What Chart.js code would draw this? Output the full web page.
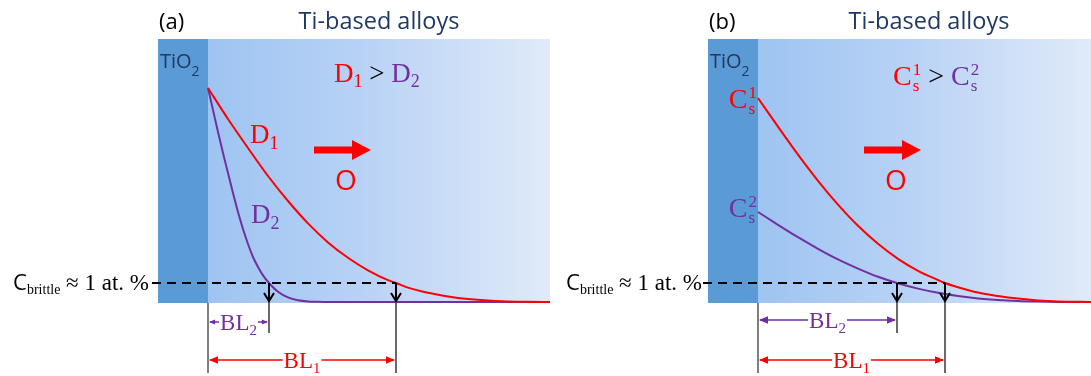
<!DOCTYPE html>
<html>
<head>
<meta charset="utf-8">
<script src="https://cdn.jsdelivr.net/npm/chart.js@4/dist/chart.umd.min.js"></script>
<style>
  html, body { margin: 0; padding: 0; background: #ffffff; }
  #wrap { position: relative; width: 1091px; height: 376px; overflow: hidden; }
  .panel { position: absolute; top: 0; }
  #pa { left: 0; }
  #pb { left: 555px; }
</style>
</head>
<body>
<div id="wrap">
  <div class="panel" id="pa"><canvas id="ca" width="555" height="376"></canvas></div>
  <div class="panel" id="pb"><canvas id="cb" width="536" height="376"></canvas></div>
</div>
<script>
// Oxygen profiles below the TiO2 scale: depth from the oxide/alloy interface
// (arbitrary units) against oxygen content (at. %).

// (a) same surface concentration, different diffusivities D1 > D2
const depthD1  = [0, 2, 4, 6, 8, 10, 12, 14, 16, 18, 18.8, 20, 22, 24, 26, 28, 30, 32, 34.2];
const oxygenD1 = [10.75, 9.2, 7.75, 6.35, 5.1, 3.98, 3.03, 2.26, 1.63, 1.14, 1.0, 0.77, 0.51, 0.33, 0.2, 0.12, 0.08, 0.06, 0.05];
const depthD2  = [0, 0.5, 1, 1.5, 2, 2.5, 3, 3.5, 4, 4.5, 5, 5.5, 6.1, 7, 8, 9, 10, 11, 12, 34.2];
const oxygenD2 = [10.75, 9.65, 8.55, 7.5, 6.5, 5.5, 4.55, 3.7, 2.95, 2.3, 1.8, 1.38, 1.0, 0.56, 0.28, 0.14, 0.08, 0.06, 0.05, 0.05];

// (b) same diffusivity, different surface concentrations Cs1 > Cs2
const depthS1  = [0, 2, 4, 6, 8, 10, 12, 14, 16, 18, 18.7, 20, 22, 24, 26, 28, 30, 33.3];
const oxygenS1 = [10.25, 8.82, 7.42, 6.11, 4.92, 3.86, 2.96, 2.21, 1.61, 1.15, 1.0, 0.79, 0.52, 0.35, 0.22, 0.13, 0.08, 0.05];
const depthS2  = [0, 2, 4, 6, 8, 10, 12, 13.9, 16, 18, 20, 22, 24, 26, 28, 30, 33.3];
const oxygenS2 = [4.55, 3.91, 3.29, 2.71, 2.18, 1.72, 1.31, 1.0, 0.72, 0.51, 0.35, 0.23, 0.15, 0.1, 0.07, 0.05, 0.03];

// embrittlement threshold and the brittle-layer depths [BL1, BL2]
const cBrittle = 1;
const brittleA = [18.8, 6.1];
const brittleB = [18.7, 13.9];

const RED = '#ff0000';
const PURPLE = '#7030a0';
const NAVY = '#1f3864';
const SANS = '"Open Sans", Lato, sans-serif';
const SERIF = '"Liberation Serif", "DejaVu Serif", serif';

// draw a run of differently styled text pieces: [text, font, color, dy]
function rich(ctx, parts, x, y, align) {
  let w = 0;
  parts.forEach(p => { ctx.font = p[1]; w += ctx.measureText(p[0]).width; });
  let cx = align === 'center' ? x - w / 2 : align === 'right' ? x - w : x;
  ctx.textAlign = 'left';
  ctx.textBaseline = 'alphabetic';
  parts.forEach(p => {
    ctx.font = p[1]; ctx.fillStyle = p[2];
    ctx.fillText(p[0], cx, y + (p[3] || 0));
    cx += ctx.measureText(p[0]).width;
  });
  return w;
}

// C with stacked superscript index and subscript "s"
function cs(ctx, x, y, idx, color, size, align) {
  const small = Math.round(size * 0.62);
  ctx.font = size + 'px ' + SERIF;
  const wc = ctx.measureText('C').width;
  ctx.font = small + 'px ' + SERIF;
  const ws = Math.max(ctx.measureText(idx).width, ctx.measureText('s').width);
  const left = align === 'right' ? x - wc - ws : x;
  ctx.textAlign = 'left'; ctx.textBaseline = 'alphabetic';
  ctx.fillStyle = color;
  ctx.font = size + 'px ' + SERIF;
  ctx.fillText('C', left, y);
  ctx.font = small + 'px ' + SERIF;
  ctx.fillText(idx, left + wc + 1, y - size * 0.36);
  ctx.fillText('s', left + wc + 1, y + size * 0.2);
  return wc + ws + 1;
}

function arrowHead(ctx, xTip, y, dir, len, half) {
  ctx.beginPath();
  ctx.moveTo(xTip, y);
  ctx.lineTo(xTip - dir * len, y - half);
  ctx.lineTo(xTip - dir * len, y + half);
  ctx.closePath();
  ctx.fill();
}

// horizontal dimension line with a centred label "BL" + index
function dimension(ctx, x0, x1, y, idx, color) {
  ctx.font = '23px ' + SERIF;
  const wb = ctx.measureText('BL').width;
  ctx.font = '15px ' + SERIF;
  const wi = ctx.measureText(idx).width;
  const w = wb + wi;
  const cx = (x0 + x1) / 2;
  const g0 = cx - w / 2 - 1, g1 = cx + w / 2 + 1;
  ctx.strokeStyle = color; ctx.fillStyle = color; ctx.lineWidth = 1.6;
  ctx.beginPath();
  ctx.moveTo(x0 + 2, y); ctx.lineTo(g0, y);
  ctx.moveTo(g1, y); ctx.lineTo(x1 - 2, y);
  ctx.stroke();
  const len = Math.min(9, (g0 - x0) * 0.55);
  arrowHead(ctx, x0 + 1, y, -1, len, len * 0.42);
  arrowHead(ctx, x1 - 1, y, 1, len, len * 0.42);
  rich(ctx, [['BL', '23px ' + SERIF, color], [idx, '15px ' + SERIF, color, 5]], cx, y + 8, 'center');
}

function makeSchematic(p) {
  return {
    id: 'schematic',
    beforeDatasetsDraw(chart) {
      const { ctx, chartArea: a, scales: { x } } = chart;
      const xi = x.getPixelForValue(0);
      ctx.save();
      ctx.fillStyle = '#5b9bd5';
      ctx.fillRect(a.left, a.top, xi - a.left, a.bottom - a.top);
      const g = ctx.createLinearGradient(xi, 0, a.right, 0);
      g.addColorStop(0, '#9ec4f2');
      g.addColorStop(0.45, '#b8d2f5');
      g.addColorStop(1, '#e0eaf9');
      ctx.fillStyle = g;
      ctx.fillRect(xi, a.top, a.right - xi, a.bottom - a.top);
      ctx.restore();
    },
    afterDatasetsDraw(chart) {
      const { ctx, chartArea: a, scales: { x, y } } = chart;
      const px = v => x.getPixelForValue(v);
      const py = v => y.getPixelForValue(v);
      const x0 = px(0);
      const yb = py(cBrittle);
      const bl1 = px(p.bl[0]), bl2 = px(p.bl[1]);
      ctx.save();

      // titles
      rich(ctx, [[p.tag, '22px ' + SANS, '#000']], a.left + 1, a.top - 10, 'left');
      rich(ctx, [['Ti-based alloys', '23.5px ' + SANS, NAVY]], a.left + 221, a.top - 10, 'center');
      rich(ctx, [['TiO', '20px ' + SANS, NAVY], ['2', '14px ' + SANS, NAVY, 8]], a.left + 2, a.top + 29, 'left');

      // extension lines below the layer
      ctx.strokeStyle = '#000'; ctx.lineWidth = 1;
      ctx.beginPath(); ctx.moveTo(x0, a.bottom); ctx.lineTo(x0, a.bottom + 70); ctx.stroke();
      ctx.strokeStyle = '#5a5a5a'; ctx.lineWidth = 1.8;
      ctx.beginPath();
      ctx.moveTo(bl2, yb); ctx.lineTo(bl2, a.bottom + 30);
      ctx.moveTo(bl1, yb); ctx.lineTo(bl1, a.bottom + 70);
      ctx.stroke();

      // threshold line
      ctx.strokeStyle = '#000'; ctx.lineWidth = 2.2;
      ctx.setLineDash([9, 6]);
      ctx.beginPath(); ctx.moveTo(a.left + p.dashStart, yb); ctx.lineTo(bl1, yb); ctx.stroke();
      ctx.setLineDash([]);

      // down arrows where each profile crosses the threshold
      [bl1, bl2].forEach(bx => {
        ctx.strokeStyle = '#000'; ctx.lineWidth = 2;
        ctx.beginPath();
        ctx.moveTo(bx, yb); ctx.lineTo(bx, a.bottom - 2);
        ctx.moveTo(bx - 5, a.bottom - 10); ctx.lineTo(bx, a.bottom - 2); ctx.lineTo(bx + 5, a.bottom - 10);
        ctx.stroke();
      });

      // threshold label
      rich(ctx, [
        ['C', '22px ' + SANS, '#000'],
        ['brittle', '14px ' + SERIF, '#000', 4],
        [' \u2248 1 at. %', '23px ' + SERIF, '#000']
      ], a.left + p.labelRight, yb + 7, 'right');

      // brittle layer dimensions
      dimension(ctx, x0, bl2, a.bottom + p.bl2Y, '2', PURPLE);
      dimension(ctx, x0, bl1, a.bottom + 57, '1', RED);

      // oxygen flux arrow
      const ay = py(7.65), ax0 = px(10.6), ax1 = px(16.3);
      ctx.fillStyle = RED;
      ctx.fillRect(ax0, ay - 3.5, ax1 - ax0 - 19, 7);
      ctx.beginPath();
      ctx.moveTo(ax1, ay); ctx.lineTo(ax1 - 19, ay - 10); ctx.lineTo(ax1 - 19, ay + 10);
      ctx.closePath(); ctx.fill();
      rich(ctx, [['O', '28px ' + SANS, RED]], px(13.8), py(5.65), 'center');

      p.labels(ctx, px, py, a);
      ctx.restore();
    }
  };
}

function lineSet(xs, ys, color) {
  return {
    data: xs.map((v, i) => ({ x: v, y: ys[i] })),
    borderColor: color,
    borderWidth: 2,
    pointRadius: 0,
    fill: false,
    cubicInterpolationMode: 'monotone'
  };
}

function panel(canvasId, sets, xMax, pad, cfg) {
  return new Chart(document.getElementById(canvasId), {
    type: 'line',
    data: { datasets: sets },
    options: {
      responsive: false,
      animation: false,
      events: [],
      layout: { padding: pad },
      scales: {
        x: { type: 'linear', min: -5, max: xMax, display: false },
        y: { type: 'linear', min: 0, max: 13.2, display: false }
      },
      plugins: { legend: { display: false }, tooltip: { enabled: false } }
    },
    plugins: [makeSchematic(cfg)]
  });
}

panel('ca',
  [lineSet(depthD1, oxygenD1, RED), lineSet(depthD2, oxygenD2, PURPLE)],
  34.2, { left: 158, right: 5, top: 39, bottom: 73 },
  {
    tag: '(a)', bl: brittleA, dashStart: -6, labelRight: -9, bl2Y: 19,
    labels(ctx, px, py) {
      rich(ctx, [
        ['D', '27px ' + SERIF, RED], ['1', '18px ' + SERIF, RED, 5],
        [' > ', '27px ' + SERIF, '#000'],
        ['D', '27px ' + SERIF, PURPLE], ['2', '18px ' + SERIF, PURPLE, 5]
      ], px(12.6), py(11.05), 'left');
      rich(ctx, [['D', '27px ' + SERIF, RED], ['1', '18px ' + SERIF, RED, 6]], px(4.2), py(8.0), 'left');
      rich(ctx, [['D', '27px ' + SERIF, PURPLE], ['2', '18px ' + SERIF, PURPLE, 6]], px(4.3), py(4.0), 'left');
    }
  });

panel('cb',
  [lineSet(depthS1, oxygenS1, RED), lineSet(depthS2, oxygenS2, PURPLE)],
  33.3, { left: 153, right: 0, top: 39, bottom: 73 },
  {
    tag: '(b)', bl: brittleB, dashStart: -5, labelRight: -6, bl2Y: 17,
    labels(ctx, px, py) {
      let cx = px(13.5);
      const base = py(10.9);
      cx += cs(ctx, cx, base, '1', RED, 28, 'left');
      ctx.font = '28px ' + SERIF; ctx.fillStyle = '#000';
      ctx.fillText(' > ', cx, base);
      cx += ctx.measureText(' > ').width;
      cs(ctx, cx, base, '2', PURPLE, 28, 'left');
      cs(ctx, px(-0.2), py(9.75), '1', RED, 28, 'right');
      cs(ctx, px(-0.2), py(4.3), '2', PURPLE, 28, 'right');
    }
  });
</script>
</body>
</html>
